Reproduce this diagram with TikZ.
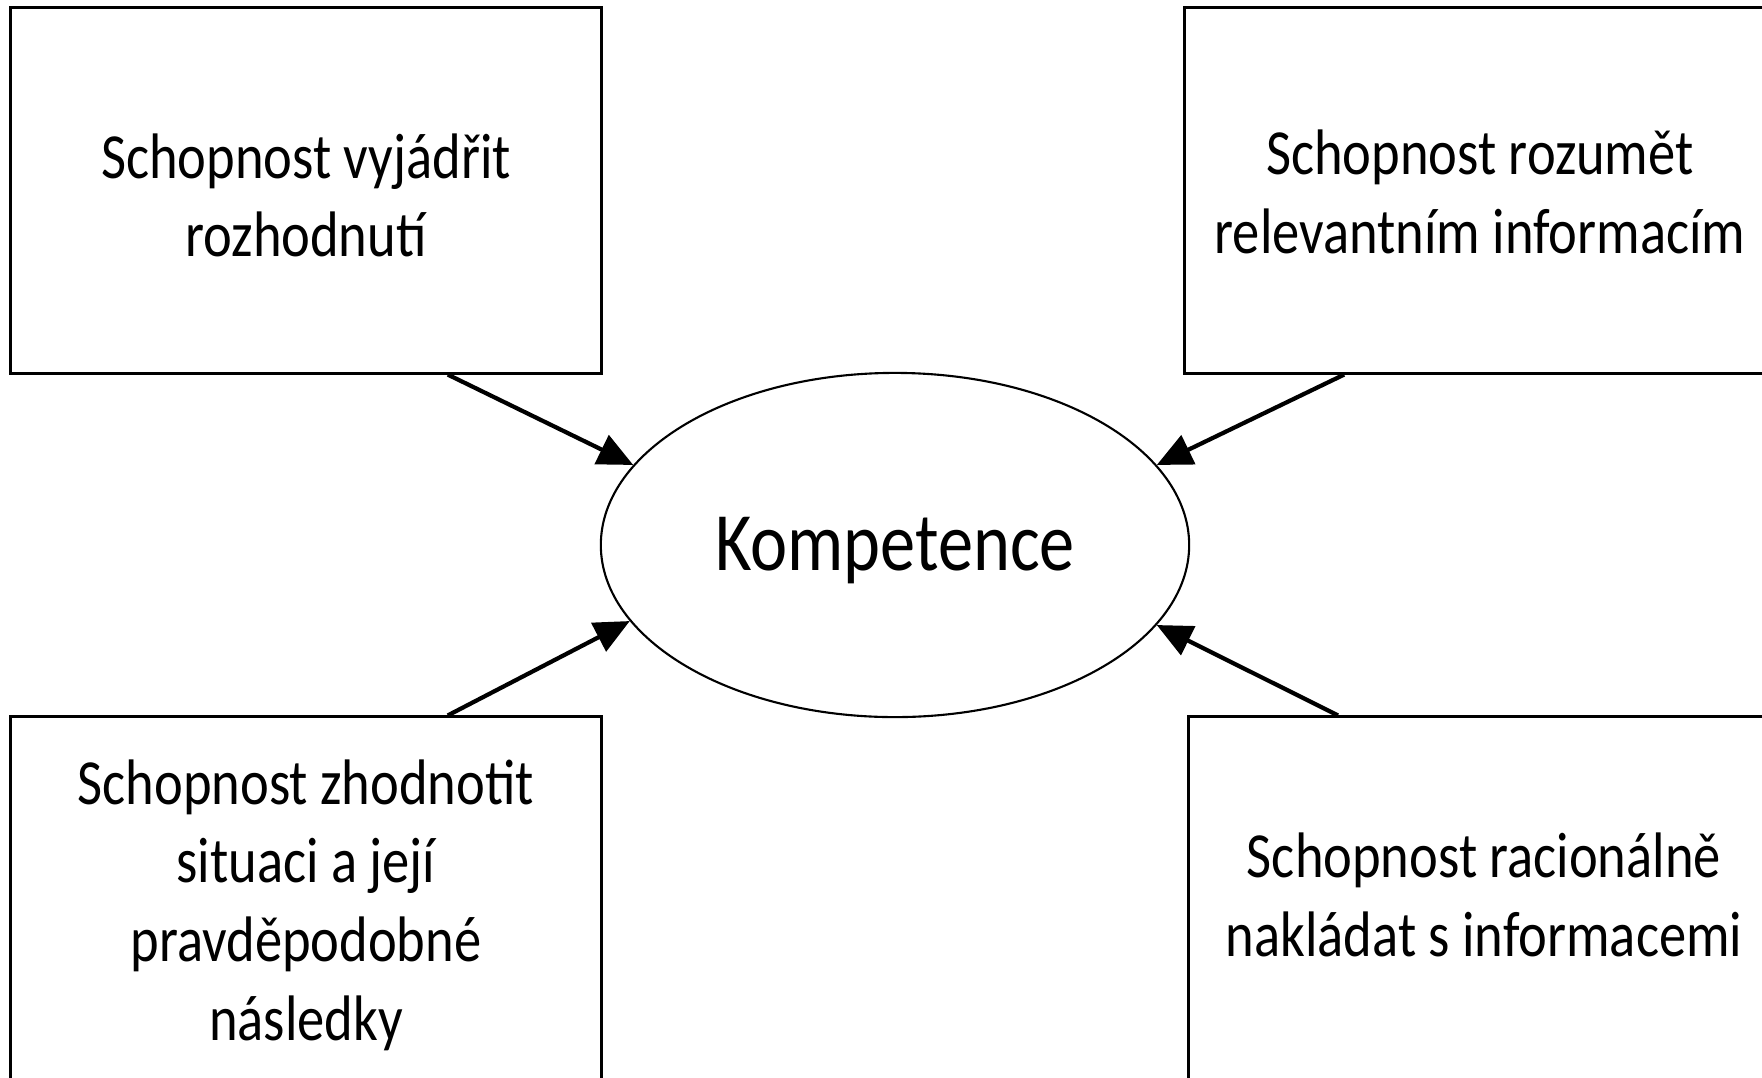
\documentclass[tikz,border=0pt]{standalone}
\usepackage{fontspec}
\setmainfont{Carlito}
\usepackage{graphicx}
\usepackage{tikz}
\usetikzlibrary{arrows.meta,calc,positioning,shapes.geometric}

% text of the picture is a bit taller than wide, and sits a bit low
\newcommand{\tallcell}[2][2pt]{\raisebox{-#1}[\height][\depth]{\scalebox{1}[1.18]{\begin{tabular}{@{}c@{}}#2\end{tabular}}}}

\tikzset{
  skill/.style={draw, rectangle, line width=0.85pt, minimum width=5.9cm, minimum height=3.65cm,
    inner sep=0pt, font=\fontsize{15.5}{19}\selectfont},
  core/.style={draw, ellipse, line width=0.6pt, minimum width=5.88cm, minimum height=3.44cm,
    inner sep=0pt, font=\fontsize{20}{24}\selectfont},
  pointer/.style={line width=1.2pt, -{Triangle[length=10pt,width=9pt]}}
}

\begin{document}
\begin{tikzpicture}[x=0.01cm,y=-0.01cm,line join=miter]
\useasboundingbox (0,0) rectangle (1762,1078);
\clip (0,0) rectangle (1762,1078);

\node[core] (komp) at (895,545) {\tallcell[1.6pt]{Kompetence}};

% the four boxes
\node[skill] (vyjadrit) at (306,190.5) {\tallcell[3.2pt]{Schopnost vyjádřit\\rozhodnutí}};
\node[skill] (rozumet) at (1480,190.5) {\tallcell[2.2pt]{Schopnost rozumět\\relevantním informacím}};
\node[skill] (zhodnotit) at (306,899.5) {\tallcell[2pt]{Schopnost zhodnotit\\situaci a její\\pravděpodobné\\následky}};
\node[skill] (nakladat) at (1484,899.5) {\tallcell[0.6pt]{Schopnost racionálně\\nakládat s informacemi}};

% arrows into the ellipse
\draw[pointer] ($(vyjadrit.south west)!0.739!(vyjadrit.south east)$) -- (komp.163);
\draw[pointer] ($(rozumet.south west)!0.271!(rozumet.south east)$) -- (komp.17);
\draw[pointer] ($(zhodnotit.north west)!0.739!(zhodnotit.north east)$) -- (komp.196);
\draw[pointer] ($(nakladat.north west)!0.254!(nakladat.north east)$) -- (komp.343);
\end{tikzpicture}
\end{document}
